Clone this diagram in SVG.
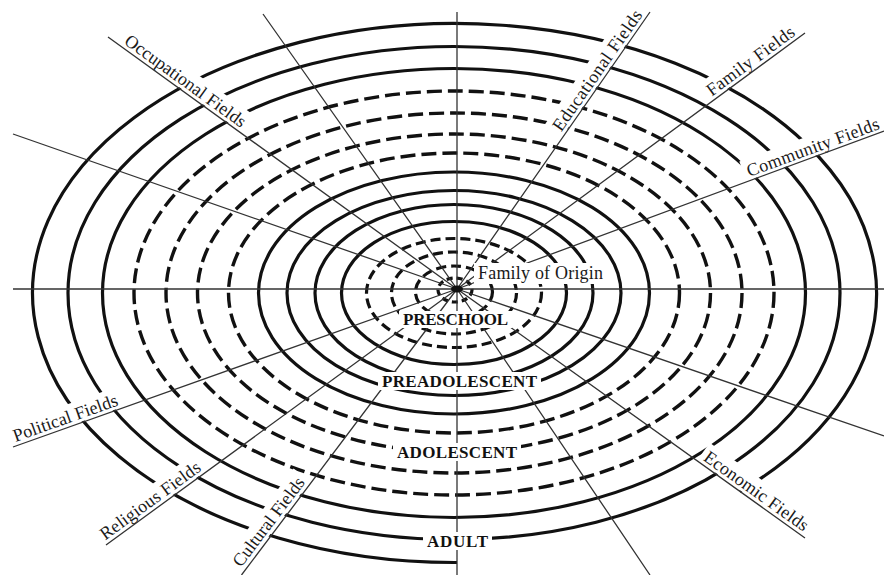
<svg xmlns="http://www.w3.org/2000/svg" width="884" height="575" viewBox="0 0 884 575">
<style>
.s{fill:none;stroke:#111;stroke-width:3.2}
.d{fill:none;stroke:#111;stroke-width:3.4;stroke-dasharray:15 6}
.di{fill:none;stroke:#111;stroke-width:3.2;stroke-dasharray:10 5}
.sp{fill:none;stroke:#333;stroke-width:1.3}
.bg{fill:#fff}
.f{font-family:"Liberation Serif",serif;font-size:18px;fill:#1a1a1a}
.st{font-family:"Liberation Serif",serif;font-size:17px;font-weight:bold;fill:#111}
</style>
<rect width="884" height="575" fill="#fff"/>
<g id="rings">
<path class="s" d="M457,562.5 A422,269.5 0 1 1 740,491.5"/>
<ellipse class="s" cx="454" cy="293" rx="386" ry="246.5"/>
<ellipse class="s" cx="454" cy="293" rx="351.5" ry="224.5"/>
<ellipse class="d" cx="454" cy="293" rx="320" ry="202"/>
<ellipse class="d" cx="454" cy="293" rx="288" ry="180"/>
<ellipse class="d" cx="454" cy="293" rx="256.5" ry="159"/>
<ellipse class="d" cx="454" cy="293" rx="225.5" ry="140"/>
<ellipse class="s" cx="454" cy="293" rx="195.5" ry="121"/>
<ellipse class="s" cx="454" cy="293" rx="167" ry="102.5"/>
<ellipse class="s" cx="454" cy="293" rx="139" ry="88.5"/>
<ellipse class="s" cx="454" cy="293" rx="112.5" ry="71.5"/>
<ellipse class="di" cx="454" cy="293" rx="87.5" ry="54.5"/>
<ellipse class="di" cx="454" cy="293" rx="62.5" ry="41"/>
<ellipse class="di" cx="454" cy="292" rx="38.5" ry="26"/>
<ellipse class="di" cx="455" cy="290" rx="17" ry="12" style="stroke-dasharray:6 4"/>
</g>
<g id="occupational" transform="translate(121,46.4) rotate(35.84)"><rect class="bg" x="-4" y="-22" width="153" height="21"/><text class="f" x="0" y="-4" textLength="145">Occupational Fields</text></g>
<g id="educational" transform="translate(564.5,134.7) rotate(-55.13)"><rect class="bg" x="-4" y="-22" width="151" height="21"/><text class="f" x="0" y="-4" textLength="143">Educational Fields</text></g>
<g id="family" transform="translate(714,100) rotate(-36.34)"><rect class="bg" x="-4" y="-22" width="113" height="21"/><text class="f" x="0" y="-4" textLength="105">Family Fields</text></g>
<g id="community" transform="translate(750.7,180.8) rotate(-20.23)"><rect class="bg" x="-4" y="-22" width="148" height="21"/><text class="f" x="0" y="-4" textLength="140">Community Fields</text></g>
<g id="political" transform="translate(16.8,445.7) rotate(-19.59)"><rect class="bg" x="-4" y="-22" width="118" height="21"/><text class="f" x="0" y="-4" textLength="110">Political Fields</text></g>
<g id="religious" transform="translate(107.6,543.8) rotate(-36.1)"><rect class="bg" x="-4" y="-22" width="128" height="21"/><text class="f" x="0" y="-4" textLength="120">Religious Fields</text></g>
<g id="cultural" transform="translate(244.2,570.4) rotate(-52.9)"><rect class="bg" x="-4" y="-22" width="115" height="21"/><text class="f" x="0" y="-4" textLength="107">Cultural Fields</text></g>
<g id="economic" transform="translate(700.2,463) rotate(35.59)"><rect class="bg" x="-4" y="-22" width="132" height="21"/><text class="f" x="0" y="-4" textLength="124">Economic Fields</text></g>
<g id="connectors">
<path class="sp" d="M457,289 L13,289 M457,289 L884,289 M457,289 L457,12 M457,289 L457,575 M457,289 L108,37 M457,289 L805,538 M457,289 L650,12 M457,289 L241.5,575 M457,289 L805,33 M457,289 L106,545 M457,289 L884,131 M457,289 L13,447 M457,289 L263,14 M457,289 L650,575 M457,289 L13,134 M457,289 L884,436"/>
</g>
<ellipse cx="457" cy="289" rx="6" ry="3.5" fill="#111"/>
<g id="family-of-origin"><rect class="bg" x="474" y="263" width="133" height="21"/><text class="f" x="478" y="279" textLength="125">Family of Origin</text></g>
<g id="preschool"><rect class="bg" x="399" y="311" width="113" height="17"/><text class="st" x="403" y="325" textLength="105">PRESCHOOL</text></g>
<g id="preadolescent"><rect class="bg" x="378" y="372" width="163" height="18"/><text class="st" x="382" y="387" textLength="155">PREADOLESCENT</text></g>
<g id="adolescent"><rect class="bg" x="393" y="443" width="128" height="18"/><text class="st" x="397" y="458" textLength="120">ADOLESCENT</text></g>
<g id="adult"><rect class="bg" x="423" y="532" width="69" height="18"/><text class="st" x="427" y="547" textLength="61">ADULT</text></g>
</svg>
